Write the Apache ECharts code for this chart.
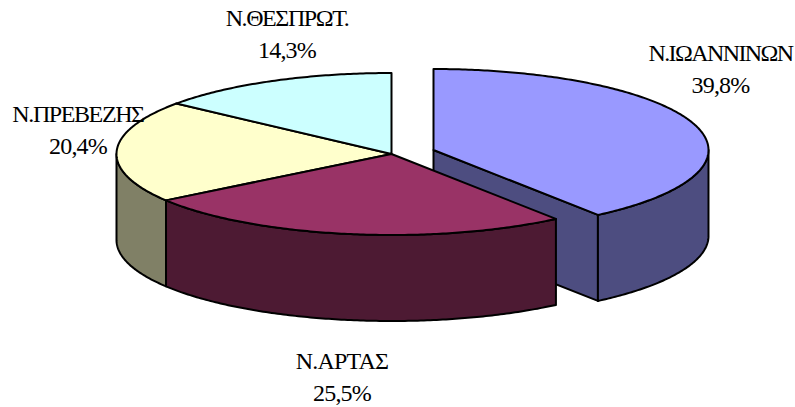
<!DOCTYPE html>
<html>
<head>
<meta charset="utf-8">
<style>
html,body{margin:0;padding:0;background:#fff}
#c{width:795px;height:407px}
</style>
<script src="https://cdn.jsdelivr.net/npm/echarts@6/dist/echarts.min.js"></script>
</head>
<body>
<div id="c"></div>
<script>
var categories = ['Ν.ΙΩΑΝΝΙΝΩΝ', 'Ν.ΑΡΤΑΣ', 'Ν.ΠΡΕΒΕΖΗΣ', 'Ν.ΘΕΣΠΡΩΤ.'];
var values = [39.8, 25.5, 20.4, 14.3];
var topColors = ['#9999FF', '#993366', '#FFFFCC', '#CCFFFF'];
var sideColors = ['#4D4D80', '#4D1A33', '#808066', '#668080'];
var paintOrder = [2, 3, 1, 4];
var exploded = [true, false, false, false];
var labelAnchors = [[720.5, 69], [342, 377], [78, 130], [287, 34]];
var nameSpacing = [-1.6, -0.8, -1.4, -1.4];
var valueSpacing = -0.8;

var center = [391.5, 154], radiusX = 275, radiusY = 81, depth = 86;
var explodeOffset = [42, -4];
var total = values.reduce(function (a, b) { return a + b; }, 0);

function valueText(v) { return String(v).replace('.', ',') + '%'; }
function arcPoint(cx, cy, deg) {
  var r = deg * Math.PI / 180;
  return [cx + radiusX * Math.sin(r), cy - radiusY * Math.cos(r)];
}
function arcPoints(cx, cy, from, to) {
  var pts = [], n = Math.max(2, Math.ceil(Math.abs(to - from) * 1.5));
  for (var i = 0; i <= n; i++) pts.push(arcPoint(cx, cy, from + (to - from) * i / n));
  return pts;
}
function renderItem(params, api) {
  var i = params.dataIndex, start = 0;
  for (var k = 0; k < i; k++) start += values[k];
  var a0 = start / total * 360;
  var a1 = a0 + api.value(0) / total * 360;
  var cx = center[0] + (exploded[i] ? explodeOffset[0] : 0);
  var cy = center[1] + (exploded[i] ? explodeOffset[1] : 0);
  var z = paintOrder[i] * 10;
  var line = { stroke: '#000', lineWidth: 2, lineJoin: 'round' };
  var children = [];
  function poly(points, fill, zz) {
    children.push({
      type: 'polygon', z2: zz,
      shape: { points: points },
      style: Object.assign({ fill: fill }, line)
    });
  }
  if (exploded[i]) {
    var e = arcPoint(cx, cy, a1);
    poly([[cx, cy], e, [e[0], e[1] + depth], [cx, cy + depth]], sideColors[i], z);
  }
  var s0 = Math.max(a0, 90), s1 = Math.min(a1, 270);
  if (s1 > s0) {
    var upper = arcPoints(cx, cy, s0, s1);
    var lower = arcPoints(cx, cy + depth, s1, s0);
    poly(upper.concat(lower), sideColors[i], z + 1);
  }
  poly([[cx, cy]].concat(arcPoints(cx, cy, a0, a1)), topColors[i], z + 2);
  children.push({
    type: 'text', z2: 100,
    style: {
      x: labelAnchors[i][0], y: labelAnchors[i][1],
      text: categories[i] + '\n' + valueText(api.value(0)),
      fill: '#000', align: 'center', verticalAlign: 'middle',
      font: '24px "Liberation Serif"', lineHeight: 32
    }
  });
  return { type: 'group', children: children };
}
var chart = echarts.init(document.getElementById('c'), null, { renderer: 'svg', width: 795, height: 407 });
chart.setOption({
  animation: false,
  backgroundColor: '#fff',
  series: [{
    type: 'custom',
    coordinateSystem: 'none',
    renderItem: renderItem,
    silent: true,
    data: values.map(function (v, i) { return { name: categories[i], value: [v] }; })
  }]
});
function applySpacing() {
  document.querySelectorAll('#c svg text, #c svg tspan').forEach(function (t) {
    var s = t.textContent, idx = categories.indexOf(s);
    t.style.letterSpacing = (idx >= 0 ? nameSpacing[idx] : valueSpacing) + 'px';
  });
}
applySpacing();
chart.on('finished', applySpacing);
</script>
</body>
</html>
